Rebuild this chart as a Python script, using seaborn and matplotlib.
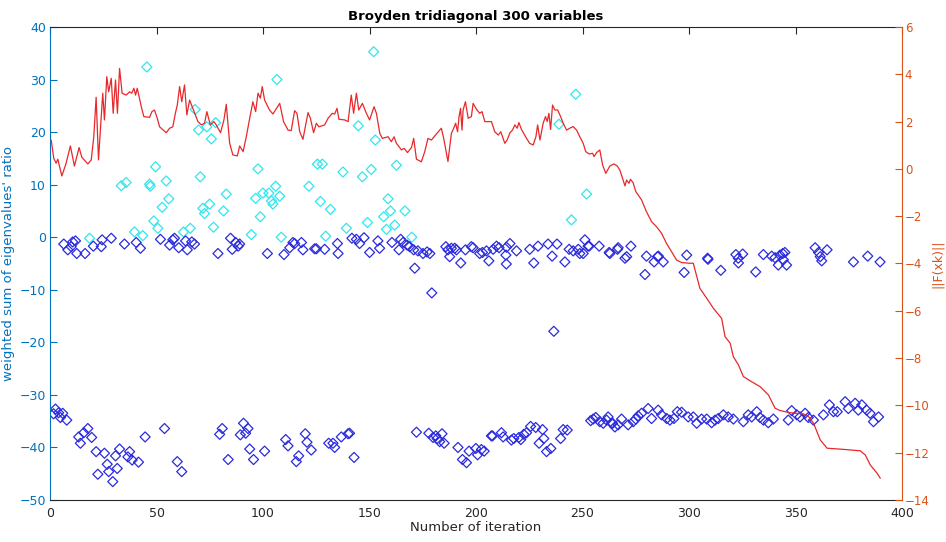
import matplotlib
matplotlib.use("Agg")
import matplotlib.pyplot as plt
import seaborn as sns
import pandas as pd
import numpy as np

# ||F(xk)|| curve (right axis), vertices
norm_iter = [0.5, 1.7, 2.8, 3.6, 5.5, 7.5, 9.5, 11.4, 13.6, 14.9, 17.7, 19.3, 20.5, 21.6, 22.7,
             24.7, 25.5, 26.6, 27.5, 28.7, 29.6, 30.7, 31.6, 32.6, 33.8, 35.7, 37.3, 38.3, 39.3,
             40.1, 40.9, 42.8, 44.0, 46.7, 47.8, 49.0, 50.3, 51.4, 54.5, 56.1, 57.6, 58.8, 59.7,
             60.8, 61.8, 63.1, 64.2, 65.5, 67.0, 69.4, 71.0, 72.5, 73.6, 75.2, 76.9, 78.0, 80.0,
             81.6, 82.7, 84.3, 85.8, 87.9, 89.0, 90.6, 92.1, 93.7, 95.2, 96.5, 97.6, 98.7, 99.6,
             100.7, 103.0, 104.6, 107.8, 109.6, 111.7, 113.2, 114.8, 115.9, 117.2, 118.7, 121.1,
             122.2, 123.7, 125.0, 126.2, 128.9, 130.5, 132.5, 133.6, 134.7, 135.6, 138.3, 139.9,
             141.4, 142.5, 143.8, 144.9, 146.6, 148.5, 150.0, 152.1, 153.2, 154.8, 156.0, 158.7,
             160.2, 161.5, 162.6, 165.0, 166.2, 167.8, 169.7, 170.7, 172.0, 174.3, 175.9, 177.4,
             179.0, 181.4, 183.7, 184.8, 186.8, 188.4, 189.5, 190.4, 191.3, 192.0, 192.7, 193.4,
             193.9, 195.0, 196.3, 197.8, 198.6, 200.2, 201.7, 202.8, 204.1, 205.6, 207.2, 208.8,
             210.4, 211.6, 213.5, 214.6, 215.9, 217.1, 218.2, 219.3, 220.1, 221.3, 223.7, 225.2,
             226.8, 228.1, 228.9, 230.0, 231.5, 232.6, 233.4, 234.2, 235.0, 235.9, 237.0, 238.3,
             239.7, 240.9, 242.5, 244.0, 245.6, 247.2, 248.7, 250.3, 251.5, 253.1, 254.7, 255.4,
             256.6, 258.1, 259.4, 260.9, 262.8, 264.7, 266.3, 267.5, 268.8, 269.9, 270.7, 271.8,
             272.5, 273.7, 275.0, 276.6, 277.7, 280.0, 282.4, 284.7, 287.1, 289.4, 291.8, 294.1,
             296.5, 300.4, 302.0, 305.1, 308.3, 311.4, 315.3, 316.9, 319.3, 320.8, 323.2, 325.5,
             329.4, 333.4, 337.3, 340.4, 342.8, 347.4, 353.7, 356.1, 358.5, 361.6, 364.8, 372.6,
             380.4, 382.8, 385.1, 388.3, 389.8]
norm_value = [1.22, 0.45, 0.24, 0.41, -0.30, 0.24, 0.97, 0.12, 0.90, 0.49, 0.21, 0.38, 1.36, 3.03, 0.38,
              3.20, 2.07, 3.90, 3.26, 3.83, 2.35, 3.76, 2.35, 4.25, 3.20, 3.12, 3.26, 3.20, 3.41,
              3.12, 3.41, 2.63, 2.21, 2.18, 2.42, 2.49, 2.14, 1.78, 1.53, 1.72, 1.78, 2.35, 2.70,
              3.48, 2.84, 3.55, 2.28, 2.91, 2.56, 2.00, 1.86, 1.93, 2.42, 1.86, 2.00, 1.86, 1.53,
              2.07, 2.73, 1.08, 0.59, 0.55, 0.97, 0.73, 1.36, 2.14, 2.84, 2.42, 3.20, 2.99, 3.48,
              2.91, 2.49, 2.32, 2.77, 2.00, 1.64, 1.62, 2.46, 2.35, 1.57, 1.25, 2.38,
              2.14, 1.53, 1.93, 1.78, 1.86, 2.14, 2.35, 2.32, 2.56, 2.10, 2.07, 2.00,
              3.12, 2.35, 3.20, 2.49, 2.77, 2.35, 2.07, 2.63, 2.35, 1.50, 1.29, 1.36,
              1.15, 1.36, 1.08, 0.80, 0.87, 0.69, 0.91, 1.29, 0.41, 0.30, 0.73, 1.29,
              1.22, 1.48, 1.72, 1.29, 0.31, 1.50, 1.72, 1.93, 1.57, 2.21, 2.56, 1.64,
              2.49, 2.84, 2.14, 2.21, 2.77, 2.52, 2.35, 2.42, 2.00, 2.00, 2.00, 1.57,
              1.43, 1.57, 1.08, 1.22, 1.53, 1.64, 1.86, 1.72, 1.96, 1.67, 1.29, 1.08,
              1.01, 1.36, 1.86, 1.22, 1.93, 2.21, 2.00, 2.35, 1.67, 2.70, 2.49, 2.49,
              2.21, 1.93, 1.64, 1.72, 1.79, 1.64, 1.36, 1.08, 0.73, 0.63, 0.66, 0.52,
              0.69, 0.80, 0.17, -0.19, 0.12, 0.21, 0.12, -0.05, -0.40, -0.72, -0.47, -0.61,
              -0.44, -0.58, -0.96, -1.17, -1.31, -1.81, -2.23, -2.44, -2.72, -3.15, -3.50, -3.85,
              -3.96, -3.99, -3.99, -5.05, -5.47, -5.89, -6.32, -7.09, -7.37, -7.94, -8.29, -8.78,
              -9.00, -9.21, -9.56, -10.12, -10.22, -10.31, -10.36, -10.47, -10.76, -11.46, -11.81, -11.86,
              -11.92, -12.10, -12.52, -12.87, -13.08]

# cyan diamonds (positive ratios)
cyan_iter = [45.4, 106.5, 68.1, 69.7, 73.6, 77.7, 75.7, 49.5, 70.5, 97.6, 125.5, 127.8, 33.4, 35.7,
             46.7, 47.0, 54.5, 55.7, 52.6, 48.7, 50.6, 39.6, 43.5, 18.5, 71.7, 72.5, 74.9, 76.7,
             82.7, 81.4, 94.5, 96.5, 98.7, 99.9, 102.7, 103.9, 104.6, 105.9, 107.8, 108.5, 121.5,
             126.9, 131.6, 129.4, 62.6, 65.8, 151.9, 246.8, 144.7, 152.7, 137.5, 146.6, 150.8,
             162.6, 139.1, 149.0, 158.7, 156.6, 159.8, 157.9, 161.8, 166.6, 169.8, 238.9, 251.9,
             244.8]
cyan_ratio = [32.4, 30.0, 24.3, 20.4, 21.0, 21.8, 18.7, 13.4, 11.5, 13.0, 13.9, 13.9, 9.8, 10.4,
              10.1, 9.7, 10.7, 7.3, 5.7, 3.1, 1.7, 1.0, 0.3, -0.2, 5.5, 4.5, 6.3, 1.9,
              8.2, 5.0, 0.5, 7.4, 3.9, 8.4, 8.4, 6.9, 6.3, 9.7, 7.8, 0.0, 9.7,
              6.8, 5.3, 0.2, 1.0, 1.7, 35.3, 27.2, 21.2, 18.5, 12.4, 11.5, 12.9,
              13.7, 1.7, 2.8, 7.3, 3.9, 5.0, 1.5, 2.3, 5.0, 0.0, 21.5, 8.2,
              3.3]

# blue diamonds near zero
upper_iter = [6.4, 8.3, 9.9, 10.6, 11.9, 12.5, 16.4, 20.3, 24.0, 24.4, 28.7, 34.9, 40.4, 42.4,
              51.8, 56.1, 57.6, 58.4, 60.4, 63.6, 64.4, 66.5, 67.8, 78.8, 84.7, 85.5, 87.1, 88.3,
              89.0, 102.0, 109.8, 112.5, 114.0, 114.8, 118.0, 118.7, 124.2, 125.0, 128.9, 134.9,
              135.2, 141.7, 143.8, 145.3, 147.4, 150.0, 153.9, 154.7, 160.5, 163.8, 164.6, 165.7,
              167.6, 168.8, 170.7, 172.7, 175.1, 177.0, 185.8, 186.8, 188.4, 190.0, 190.8, 195.0,
              197.8, 198.6, 203.0, 204.9, 208.0, 209.6, 210.8, 214.3, 215.9, 219.0, 225.2, 229.1,
              233.8, 238.0, 243.7, 245.6, 248.0, 248.7, 250.3, 251.1, 252.6, 257.8, 262.5, 266.4,
              279.3, 297.7, 227.1, 192.8, 206.0, 241.7, 235.7, 187.6, 287.9, 283.6, 280.0, 285.2,
              298.9, 262.8, 266.7, 272.7, 269.9, 270.7, 253.1, 214.0, 201.7, 178.3, 285.6, 308.7,
              322.0, 323.1, 325.2, 334.9, 338.8, 340.4, 342.7, 344.0, 345.0, 359.2, 360.8, 361.6,
              364.8, 377.2, 383.9, 389.7, 308.9, 314.9, 323.2, 331.3, 341.9, 344.3, 345.8, 362.3,
              171.2, 179.2, 236.5, 214.2]
upper_ratio = [-1.3, -2.4, -1.8, -0.9, -0.7, -3.1, -3.1, -1.7, -1.8, -0.5, -0.2, -1.3, -1.0, -2.1,
               -0.4, -1.5, -0.5, -0.2, -2.0, -0.7, -2.4, -0.9, -1.3, -3.1, -0.2, -2.3, -1.0, -1.7,
               -1.3, -3.1, -3.3, -2.0, -1.0, -1.2, -1.0, -2.4, -2.2, -2.2, -2.3, -1.2,
               -3.1, -0.2, -0.4, -1.2, -0.1, -2.9, -0.7, -2.1, -1.0, -2.4, -0.4, -1.0,
               -1.5, -1.8, -2.4, -2.6, -3.1, -2.8, -1.8, -2.4, -2.1, -2.1, -2.4, -2.4,
               -1.8, -2.0, -2.9, -2.6, -2.3, -1.7, -2.0, -1.9, -1.2, -2.6, -2.3, -1.7,
               -1.3, -1.3, -2.3, -2.6, -2.3, -3.1, -3.1, -0.5, -1.7, -1.7, -2.9, -2.3,
               -7.1, -6.7, -4.9, -4.9, -4.5, -4.7, -3.6, -3.7, -4.7, -4.7, -3.6, -3.7,
               -3.4, -3.1, -2.0, -1.7, -4.0, -3.7, -1.7, -3.4, -3.1, -3.1, -3.6, -4.0,
               -3.3, -4.0, -3.2, -3.3, -3.6, -3.9, -3.4, -3.1, -2.9, -2.0, -2.9, -3.7,
               -2.4, -4.7, -3.6, -4.7, -4.2, -6.3, -4.9, -6.6, -5.3, -4.3, -5.3, -4.5,
               -5.9, -10.6, -17.9, -5.1]

# blue diamonds in the lower band
lower_iter = [1.6, 2.5, 4.0, 4.8, 5.9, 7.8, 13.4, 14.2, 15.8, 17.7, 19.5, 21.6, 22.4, 25.5, 26.8,
              27.5, 29.4, 30.7, 31.5, 32.6, 36.5, 37.3, 38.5, 41.5, 44.6, 53.7, 59.7, 61.8, 79.6,
              80.8, 83.6, 89.3, 90.8, 91.8, 92.9, 93.7, 95.5, 100.7, 110.6, 111.7, 115.6, 116.7,
              119.8, 120.6, 122.6, 130.8, 132.8, 133.6, 136.7, 139.9, 140.6, 142.7, 172.0, 177.8,
              179.8, 181.1, 181.7, 182.9, 184.0, 185.0, 191.5, 193.6, 195.5, 196.7, 199.9, 200.7,
              202.5, 203.8, 207.2, 207.7, 211.9, 212.7, 216.6, 217.7, 220.1, 221.0, 222.4, 223.7,
              225.6, 228.0, 231.2, 229.6, 231.8, 233.1, 235.1, 239.7, 240.9, 242.8, 253.8, 255.0,
              256.2, 258.1, 259.7, 261.3, 262.0, 264.1, 265.2, 266.7, 263.6, 268.3, 271.4, 273.8,
              275.0, 276.1, 277.7, 280.8, 282.4, 285.5, 287.1, 289.5, 291.0, 292.9, 294.5, 296.5,
              299.6, 302.0, 303.6, 305.9, 308.3, 310.6, 312.2, 313.7, 316.1, 318.4, 320.8, 325.5,
              327.8, 329.4, 331.8, 333.3, 334.9, 337.2, 339.6, 346.6, 348.2, 350.6, 352.1, 354.5,
              356.0, 358.4, 363.1, 365.9, 367.8, 369.6, 373.3, 374.8, 378.0, 379.5, 381.1, 383.4,
              385.0, 386.6, 389.0]
lower_ratio = [-33.6, -32.7, -33.4, -34.3, -33.5, -34.8, -38.0, -39.2, -37.2, -36.4, -38.1, -40.8, -45.1, -41.1, -43.2,
               -44.6, -46.5, -41.6, -44.0, -40.3, -41.8, -40.8, -42.4, -42.8, -38.0, -36.4, -42.7, -44.6, -37.5,
               -36.4, -42.3, -37.6, -35.4, -37.3, -36.4, -40.3, -42.3, -40.7, -38.5, -39.7, -42.7, -41.6,
               -37.4, -39.0, -40.5, -39.2, -39.2, -40.0, -38.0, -37.4, -37.3, -41.9, -37.1, -37.3,
               -38.1, -37.8, -38.3, -38.9, -37.4, -39.2, -40.0, -42.3, -42.9, -40.7, -40.2, -41.4,
               -40.4, -40.7, -37.8, -37.8, -37.2, -38.0, -38.6, -38.3, -38.1, -38.5, -37.5, -37.2,
               -36.0, -36.2, -36.6, -39.2, -38.3, -40.8, -40.2, -38.3, -36.6, -36.7, -34.9, -34.6,
               -34.3, -35.1, -35.4, -34.8, -34.2, -35.4, -36.1, -35.7, -35.4, -34.6, -35.7, -35.1,
               -34.6, -34.0, -33.5, -32.6, -34.5, -32.9, -33.8, -34.5, -34.8, -34.5, -33.2, -33.3,
               -34.2, -34.2, -35.4, -34.6, -34.6, -35.3, -34.8, -34.5, -33.8, -34.2, -34.6, -35.1,
               -33.8, -34.2, -33.2, -34.3, -34.8, -35.3, -34.6, -34.8, -33.0, -33.8, -34.2, -33.5,
               -34.3, -34.8, -33.8, -31.9, -33.2, -33.2, -31.3, -32.6, -31.6, -32.9, -31.9, -32.9,
               -33.5, -35.1, -34.2]

x_ticks = np.arange(0, 401, 50)
left_ticks = np.arange(-50, 41, 10)
right_ticks = np.arange(-14, 7, 2)

blue_axis = "#0072BD"
orange_axis = "#D95319"
dark = "#262626"

sns.set_style("white")
plt.rcParams['font.family'] = ['DejaVu Sans']

fig = plt.figure(figsize=(9.46, 5.42), dpi=100)
ax = fig.add_axes([0.053, 0.0775, 0.9005, 0.8727])
ax2 = ax.twinx()

diamond = dict(marker="D", s=26, facecolor="none", linewidth=0.9)
sns.scatterplot(x=cyan_iter, y=cyan_ratio, ax=ax, edgecolor="#33e6ee", **diamond)
sns.scatterplot(x=upper_iter, y=upper_ratio, ax=ax, edgecolor="#2b2bdd", **diamond)
sns.scatterplot(x=lower_iter, y=lower_ratio, ax=ax, edgecolor="#2b2bdd", **diamond)

norm_df = pd.DataFrame({"iter": norm_iter, "value": norm_value})
sns.lineplot(data=norm_df, x="iter", y="value", ax=ax2, color="#e8282a", linewidth=0.9,
             sort=False, estimator=None)

ax.set_xlim(0, 400)
ax.set_ylim(-50, 40)
ax2.set_ylim(-14, 6)
ax.set_xticks(x_ticks)
ax.set_yticks(left_ticks)
ax2.set_yticks(right_ticks)

ax.set_title("Broyden tridiagonal 300 variables", fontsize=9.5, fontweight="bold", color="black", pad=5)
ax.set_xlabel("Number of iteration", fontsize=9.5, color=dark, labelpad=1)
ax.set_ylabel("weighted sum of eigenvalues' ratio", fontsize=9.5, color=blue_axis, labelpad=3)
ax2.set_ylabel("||F(xk)||", fontsize=9, color=orange_axis, labelpad=1)

ax.tick_params(axis="x", direction="in", length=5, colors=dark, labelsize=9, top=True, pad=5)
ax.tick_params(axis="y", direction="in", length=5, colors=blue_axis, labelsize=9, pad=3)
ax2.tick_params(axis="y", direction="in", length=5, colors=orange_axis, labelsize=8.5, pad=2)

for side in ["bottom", "top"]:
    ax.spines[side].set_color(dark)
    ax2.spines[side].set_visible(False)
ax.spines["left"].set_color(blue_axis)
ax.spines["right"].set_visible(False)
ax2.spines["left"].set_visible(False)
ax2.spines["right"].set_color(orange_axis)
for a in (ax, ax2):
    for sp in a.spines.values():
        sp.set_linewidth(0.8)

fig.savefig("out.png", dpi=100)
plt.close(fig)
